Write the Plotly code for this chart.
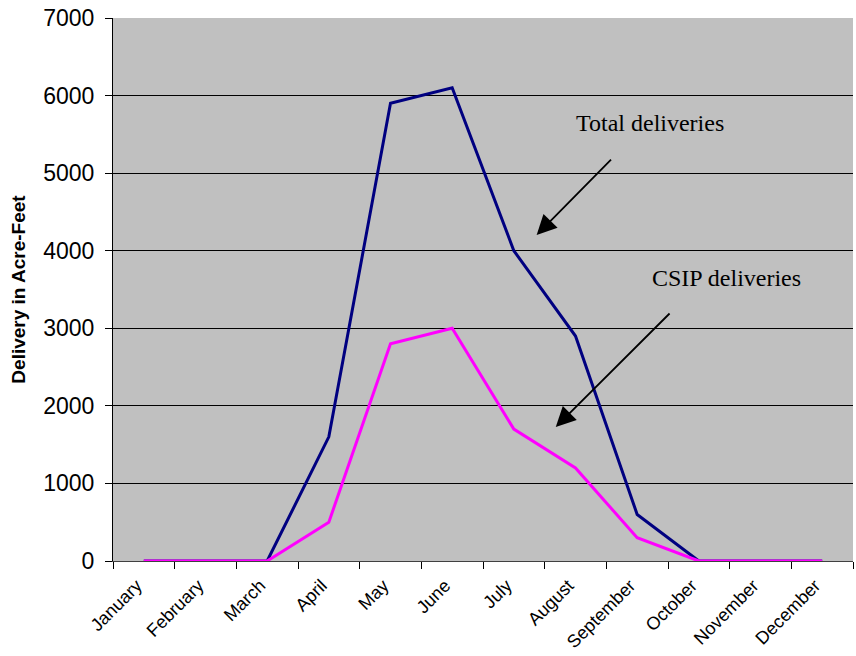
import plotly.graph_objects as go

months = ["January", "February", "March", "April", "May", "June", "July",
          "August", "September", "October", "November", "December"]
total_deliveries = [0, 0, 0, 1600, 5900, 6100, 4000, 2900, 600, 0, 0, 0]
csip_deliveries = [0, 0, 0, 500, 2800, 3000, 1700, 1200, 300, 0, 0, 0]
y_ticks = [0, 1000, 2000, 3000, 4000, 5000, 6000, 7000]

fig = go.Figure()
fig.add_trace(go.Scatter(x=months, y=total_deliveries, mode="lines",
                         line=dict(color="#000080", width=3), name="Total deliveries"))
fig.add_trace(go.Scatter(x=months, y=csip_deliveries, mode="lines",
                         line=dict(color="#FF00FF", width=3), name="CSIP deliveries"))

serif = "Liberation Serif, Times New Roman, serif"
sans = "Liberation Sans, Arial, sans-serif"
fig.add_annotation(x=8.2, y=5646, xref="x", yref="y", text="Total deliveries",
                   showarrow=False, font=dict(family=serif, size=24, color="black"))
fig.add_annotation(x=9.45, y=3648, xref="x", yref="y", text="CSIP deliveries",
                   showarrow=False, font=dict(family=serif, size=24, color="black"))
fig.add_annotation(x=6.37, y=4203, ax=7.60, ay=5195, xref="x", yref="y",
                   axref="x", ayref="y", text="", showarrow=True,
                   arrowhead=2, arrowsize=2.2, arrowwidth=1.8, arrowcolor="black")
fig.add_annotation(x=6.68, y=1727, ax=8.55, ay=3210, xref="x", yref="y",
                   axref="x", ayref="y", text="", showarrow=True,
                   arrowhead=2, arrowsize=2.2, arrowwidth=1.8, arrowcolor="black")

fig.update_layout(
    width=856, height=656,
    margin=dict(l=113, r=3, t=18, b=95),
    paper_bgcolor="white", plot_bgcolor="#C0C0C0",
    showlegend=False,
    font=dict(family=sans, color="black"),
)
fig.update_xaxes(type="category", range=[-0.5, 11.5], tickangle=-45,
                 tickson="boundaries", ticks="outside", ticklen=7, tickcolor="black",
                 showline=True, linecolor="#404040", linewidth=1,
                 showgrid=False, zeroline=False,
                 ticklabelstandoff=6, ticklabelshift=-7,
                 tickfont=dict(size=18, family=sans))
fig.update_yaxes(range=[0, 7000], tickvals=y_ticks, ticks="outside", ticklen=7,
                 tickcolor="black", showline=True, linecolor="black", linewidth=1,
                 showgrid=True, gridcolor="black", gridwidth=1, zeroline=False,
                 ticklabelstandoff=6, ticklabeloverflow="allow",
                 tickfont=dict(size=23, family=sans),
                 title=dict(text="<b>Delivery in Acre-Feet</b>", standoff=12,
                            font=dict(size=19, family=sans)))

fig.write_html("out.html", config={"displayModeBar": False},
               post_script="document.body.style.margin='0';document.body.style.padding='0';")
